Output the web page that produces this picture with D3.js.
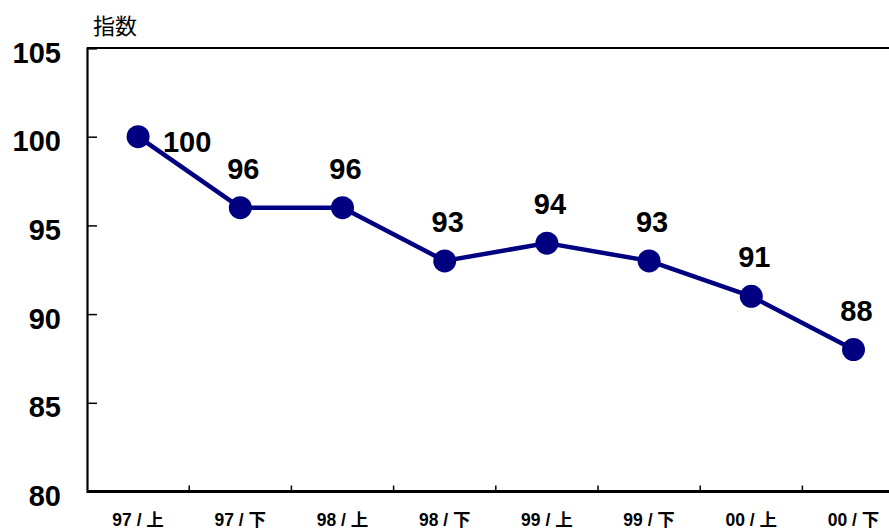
<!DOCTYPE html>
<html>
<head>
<meta charset="utf-8">
<script src="https://cdn.jsdelivr.net/npm/d3@7"></script>
<style>
    body { margin: 0; background: #fff; }
    svg { display: block; }
    text { font-family: "Liberation Sans", Arial, sans-serif; fill: #000; }
</style>
</head>
<body>
<div id="chart"></div>
<script>
// data
const periods = ["97 / 上", "97 / 下", "98 / 上", "98 / 下", "99 / 上", "99 / 下", "00 / 上", "00 / 下"];
const indexValues = [100, 96, 96, 93, 94, 93, 91, 88];
const yTicks = [80, 85, 90, 95, 100, 105];
const yTitle = "指数";

const w = 889;
const h = 530;
const plotLeft = 87;
const plotTop = 48;
const plotBottom = 491.5;
const bandW = 102.2;

const svg = d3.select("#chart")
    .append("svg")
    .attr("width", w)
    .attr("height", h);

const xScale = d3.scaleBand()
    .domain(periods)
    .range([plotLeft, plotLeft + bandW * periods.length])
    .paddingInner(0)
    .paddingOuter(0);

const yScale = d3.scaleLinear()
    .domain([80, 105])
    .range([plotBottom, plotTop]);

// plot frame (right edge falls off the canvas)
svg.append("line")
    .attr("x1", plotLeft).attr("x2", w + 10)
    .attr("y1", plotTop).attr("y2", plotTop)
    .attr("stroke", "#000").attr("stroke-width", 2);

// y axis
const yAxis = d3.axisLeft(yScale)
    .tickValues(yTicks)
    .tickSize(-10)
    .tickPadding(26)
    .tickFormat(d3.format("d"));

const gy = svg.append("g")
    .attr("transform", `translate(${plotLeft},0)`)
    .call(yAxis);
gy.select(".domain").attr("stroke", "#000").attr("stroke-width", 2.2);
gy.selectAll(".tick line").attr("stroke", "#000").attr("stroke-width", 1.5);
gy.selectAll(".tick text")
    .attr("font-size", 29)
    .attr("font-weight", "bold")
    .attr("dy", 14)
    .style("font-family", "'Liberation Sans', Arial, sans-serif");
gy.select(".tick:first-of-type line").remove();

// x axis
const xAxis = d3.axisBottom(xScale)
    .tickSize(0)
    .tickPadding(18);

const gx = svg.append("g")
    .attr("transform", `translate(0,${plotBottom})`)
    .call(xAxis);
gx.select(".domain").attr("d", `M${plotLeft},0H${w + 10}`).attr("stroke", "#000").attr("stroke-width", 2.8);
gx.selectAll(".tick text")
    .attr("font-size", 17.5)
    .attr("font-weight", "bold")
    .attr("dy", "0.95em")
    .style("white-space", "pre")
    .style("font-family", "'Liberation Sans', 'Noto Sans CJK JP', sans-serif");

// tick marks between categories, pointing up
gx.selectAll(".sep")
    .data(periods.slice(1))
    .enter()
    .append("line")
    .attr("class", "sep")
    .attr("x1", (d) => xScale(d)).attr("x2", (d) => xScale(d))
    .attr("y1", 0).attr("y2", -6)
    .attr("stroke", "#000").attr("stroke-width", 1.5);

// y title
svg.append("text")
    .attr("x", 93)
    .attr("y", 34)
    .attr("font-size", 22)
    .style("font-family", "'Noto Sans CJK JP', sans-serif")
    .text(yTitle);

const cx = (d, i) => xScale(periods[i]) + xScale.bandwidth() / 2;

const line = d3.line()
    .x((d, i) => cx(d, i))
    .y((d) => yScale(d));

svg.append("path")
    .datum(indexValues)
    .attr("d", line)
    .attr("fill", "none")
    .attr("stroke", "#000080")
    .attr("stroke-width", 4.5)
    .attr("stroke-linejoin", "round");

svg.selectAll("circle.pt")
    .data(indexValues)
    .enter()
    .append("circle")
    .attr("class", "pt")
    .attr("cx", cx)
    .attr("cy", (d) => yScale(d))
    .attr("r", 11.5)
    .attr("fill", "#000080");

// value labels: the first one sits to the right, the others above
svg.selectAll("text.lbl")
    .data(indexValues)
    .enter()
    .append("text")
    .attr("class", "lbl")
    .attr("text-anchor", "middle")
    .attr("font-size", 29)
    .attr("font-weight", "bold")
    .attr("x", (d, i) => cx(d, i) + (i === 0 ? 49 : 3))
    .attr("y", (d, i) => yScale(d) + (i === 0 ? 15 : -29))
    .text((d) => d);
</script>
</body>
</html>
